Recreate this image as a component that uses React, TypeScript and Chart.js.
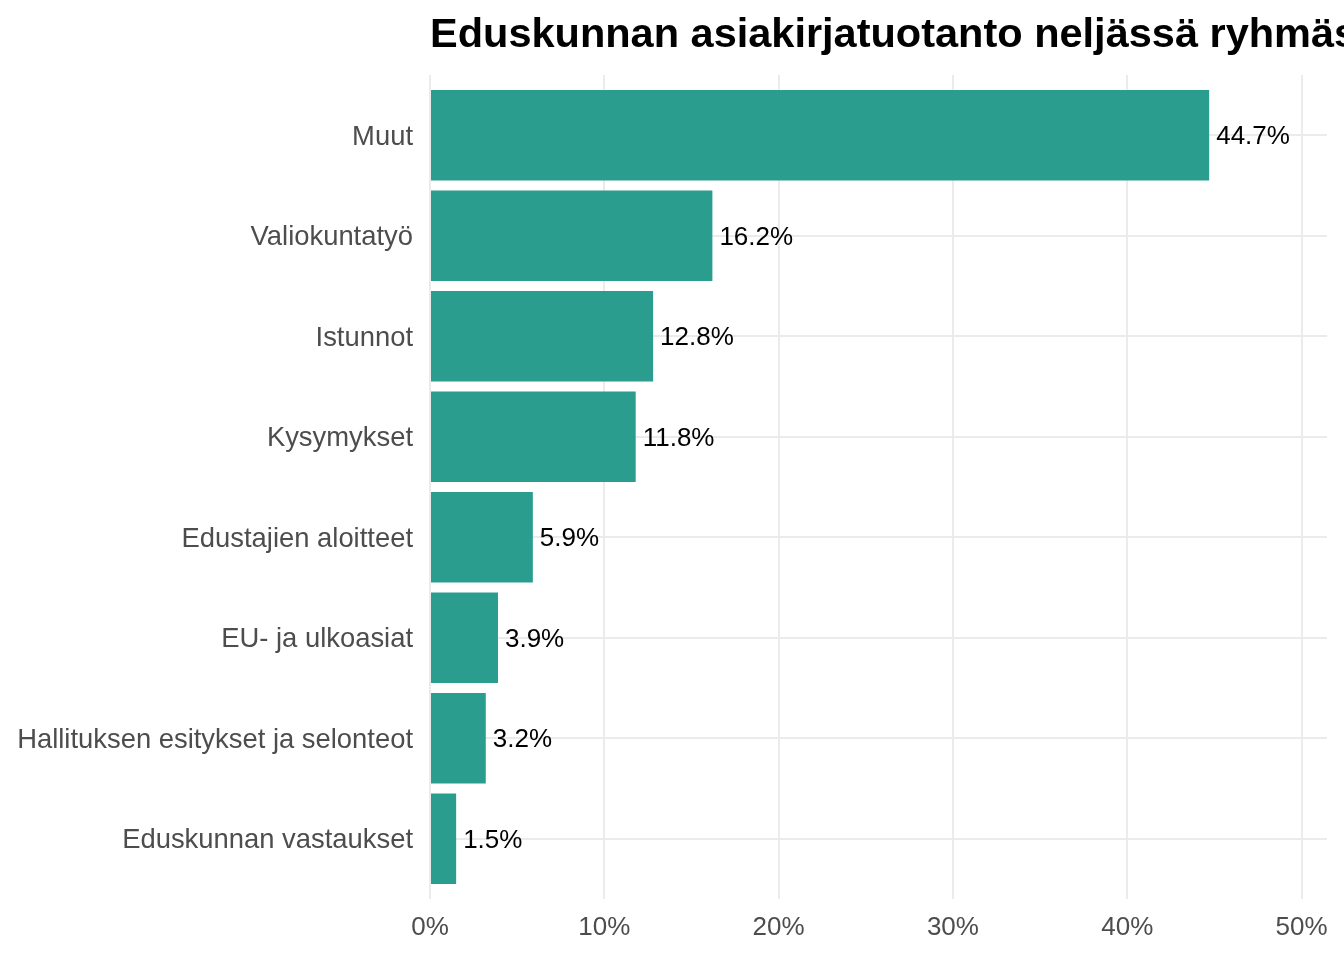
import React, { useRef, useEffect } from 'react';
import { Chart, registerables, Plugin } from 'chart.js';

Chart.register(...registerables);

const categories = [
  'Muut',
  'Valiokuntatyö',
  'Istunnot',
  'Kysymykset',
  'Edustajien aloitteet',
  'EU- ja ulkoasiat',
  'Hallituksen esitykset ja selonteot',
  'Eduskunnan vastaukset',
];
const shares = [44.7, 16.2, 12.8, 11.8, 5.9, 3.9, 3.2, 1.5];
const xTicks = [0, 10, 20, 30, 40, 50];
const title = 'Eduskunnan asiakirjatuotanto neljässä ryhmässä';

const FONT = "'Liberation Sans', Arial, sans-serif";
const BAR = '#2a9d8f';
const GRID = '#ebebeb';

// percent labels just right of each bar
const valueLabels: Plugin = {
  id: 'valueLabels',
  afterDatasetsDraw(chart) {
    const ctx = chart.ctx;
    const meta = chart.getDatasetMeta(0);
    ctx.save();
    ctx.font = `26px ${FONT}`;
    ctx.fillStyle = '#000';
    ctx.textAlign = 'left';
    ctx.textBaseline = 'middle';
    meta.data.forEach((bar: any, i) => {
      ctx.fillText(shares[i].toFixed(1) + '%', bar.x + 7, bar.y + 2);
    });
    ctx.restore();
  },
};

// title aligned with the panel's left edge (ggplot style)
const titlePlugin: Plugin = {
  id: 'leftTitle',
  afterDraw(chart) {
    const ctx = chart.ctx;
    ctx.save();
    ctx.font = `bold 41.5px ${FONT}`;
    ctx.fillStyle = '#000';
    ctx.textAlign = 'left';
    ctx.textBaseline = 'alphabetic';
    ctx.fillText(title, chart.chartArea.left, 47);
    ctx.restore();
  },
};

const App: React.FC = () => {
  const canvasRef = useRef<HTMLCanvasElement | null>(null);
  const chartRef = useRef<Chart | null>(null);

  useEffect(() => {
    document.body.style.margin = '0';
    const canvas = canvasRef.current;
    if (!canvas) return;
    if (chartRef.current) chartRef.current.destroy();

    chartRef.current = new Chart(canvas, {
      type: 'bar',
      data: {
        datasets: [
          {
            data: shares.map((v, i) => ({ x: v, y: i })),
            backgroundColor: BAR,
            borderWidth: 0,
            barPercentage: 0.9,
            categoryPercentage: 1,
          },
        ],
      },
      options: {
        indexAxis: 'y',
        animation: false,
        responsive: false,
        devicePixelRatio: 1,
        layout: { padding: { top: 75, right: 17, bottom: 0, left: 0 } },
        plugins: {
          legend: { display: false },
          tooltip: { enabled: false },
          title: { display: false },
        },
        scales: {
          x: {
            type: 'linear',
            min: 0,
            max: 51.46,
            offset: false,
            afterBuildTicks: (scale: any) => {
              scale.ticks = xTicks.map((v) => ({ value: v }));
            },
            afterFit: (scale: any) => {
              scale.height = 61;
            },
            grid: { color: GRID, lineWidth: 2, drawTicks: false, offset: false },
            border: { display: false },
            ticks: {
              padding: 13,
              color: '#4d4d4d',
              font: { family: FONT, size: 26 },
              callback: (v: any) => `${v}%`,
            },
          },
          y: {
            type: 'linear',
            min: -0.6,
            max: 7.6,
            reverse: true,
            offset: false,
            afterBuildTicks: (scale: any) => {
              scale.ticks = categories.map((_, i) => ({ value: i }));
            },
            afterFit: (scale: any) => {
              scale.width = 430;
            },
            grid: { color: GRID, lineWidth: 2, drawTicks: false, offset: false },
            border: { display: false },
            ticks: {
              padding: 17,
              labelOffset: 2,
              color: '#4d4d4d',
              font: { family: FONT, size: 27.4 },
              callback: (v: any) => categories[v] ?? '',
            },
          },
        },
      },
      plugins: [valueLabels, titlePlugin],
    });

    return () => {
      if (chartRef.current) {
        chartRef.current.destroy();
        chartRef.current = null;
      }
    };
  }, []);

  return (
    <div style={{ width: 1344, height: 960, background: '#fff' }}>
      <canvas ref={canvasRef} width={1344} height={960} />
    </div>
  );
};

export default App;
